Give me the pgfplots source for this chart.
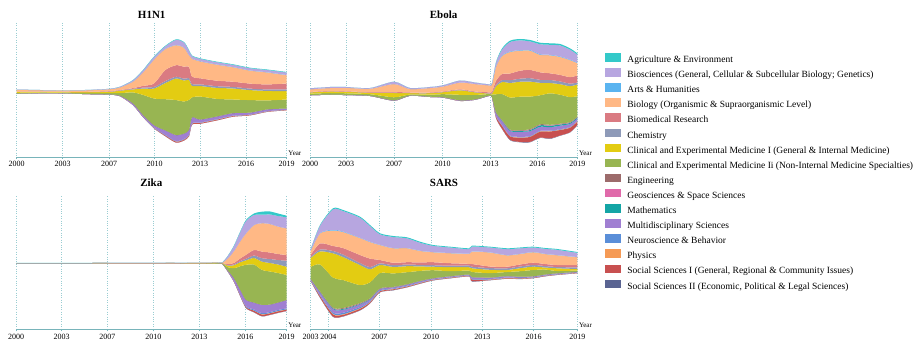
\documentclass[border=0pt]{standalone}
\usepackage{fontspec}
\setmainfont{Liberation Serif}
\usepackage{pgfplots}
\usepackage{pgfplotstable}
\pgfplotsset{compat=1.18}

\definecolor{cAgr}{HTML}{33C9C9}
\definecolor{cBsc}{HTML}{B7A6E0}
\definecolor{cArt}{HTML}{5AB4F0}
\definecolor{cBio}{HTML}{FFB885}
\definecolor{cBmd}{HTML}{DA7B82}
\definecolor{cChm}{HTML}{8E9AB8}
\definecolor{cCA}{HTML}{E3CC12}
\definecolor{cCB}{HTML}{98B552}
\definecolor{cEng}{HTML}{9C6B6B}
\definecolor{cGeo}{HTML}{E06AAA}
\definecolor{cMat}{HTML}{14A5A5}
\definecolor{cMul}{HTML}{A07FD2}
\definecolor{cNeu}{HTML}{5A8ED8}
\definecolor{cPhy}{HTML}{F59A55}
\definecolor{cSA}{HTML}{C85050}
\definecolor{cSB}{HTML}{5A6492}
\definecolor{axcol}{HTML}{78B4BA}
\definecolor{gridcol}{HTML}{9ACDD2}

% columns: x, top edge (screen px), then layer thicknesses from top to bottom
\pgfplotstableread{
x     top   Agr Bsc Art Bio  Bmd  Chm CA   CB   Eng Geo Mat Mul Neu Phy SA  SB
16.7  89.5  0   0.3 0   1.8  0.3  0.1 0.8  0.8  0   0   0   0.2 0   0   0   0
40    90    0   0.2 0   1.4  0.2  0.1 0.6  0.6  0   0   0   0.1 0   0   0   0
62    90.3  0   0.2 0   1.2  0.2  0.1 0.6  0.6  0   0   0   0.1 0   0   0   0
85    90    0   0.3 0   1.5  0.3  0.1 0.8  0.9  0   0   0   0.2 0   0   0   0
109   88.8  0   0.4 0   2.0  0.4  0.2 1.2  1.4  0   0   0   0.3 0   0   0   0
120   86.7  0   0.6 0   2.7  0.4  0.3 2.4  2.5  0   0   0   0.5 0   0   0.1 0
133   80    0.2 1.3 0.1 6.5  0.7  0.6 3.0  11.0 0   0   0   1.5 0.1 0   0.2 0
143   70    0.3 2.0 0.1 13.5 1.7  1.0 6.3  20   0   0   0   1.7 0.2 0   0.3 0
154   56.5  0.4 2.4 0.2 24   3.4  1.6 10   26.7 0   0   0   2.3 0.3 0.1 0.4 0
165   46    0.5 2.5 0.2 21   11   2   16   31   0   0   0   4.5 0.4 0.1 0.8 0
176   39.3  0.5 5.2 0.2 20   11.5 1.8 21.5 35   0   0   0   6   0.4 0.2 1.0 0
184   42    0.5 5   0.2 19   12   1.8 21   32   0   0   0   5.5 0.4 0.2 0.9 0
189   50    0.5 4.5 0.2 11.5 11.5 1.7 20   30   0   0   0   5   0.4 0.2 0.8 0
192   55.5  0.5 2.5 0.2 18   7.3  1.8 11.5 20   0   0   0   6   0.4 0.2 0.8 0
200   58.3  0.5 2.3 0.2 17   6    1.7 10.5 23   0   0   0   3   0.3 0.2 0.8 0
217   61.7  0.5 2.3 0.2 16   5.5  1.7 11   17.5 0   0   0   2.8 0.3 0.2 0.7 0
233   64.3  0.5 2.2 0.2 14.5 5.2  1.6 11   13.6 0   0   0   2.5 0.3 0.2 0.6 0
250   67.7  0.5 2.2 0.2 13   5    1.5 10   12.5 0   0   0   2   0.2 0.1 0.5 0
267   69.5  0.5 2.2 0.2 12   5    1.5 9.5  9    0   0   0   1.8 0.2 0.1 0.4 0
286.7 72    0.5 2.5 0.2 8.3  6    1.7 8.3  9    0   0   0   1.3 0.1 0.1 0.3 0
}\tabH

\pgfplotstableread{
x     top  Agr Bsc Art Bio  Bmd Chm CA   CB   Eng Geo Mat Mul Neu Phy SA  SB
310   88.3 0   1.0 0   2.6  0.4 0.1 1.3  1.3  0   0   0   0.3 0   0   0   0
330   87   0   1.0 0   3.0  0.4 0.1 1.5  1.5  0   0   0   0.3 0   0   0   0
346   87   0   0.8 0   3.5  0.4 0.1 1.5  1.5  0   0   0   0.3 0   0   0   0
370   88   0   0.7 0   3.5  0.4 0.1 1.5  1.5  0   0   0   0.3 0   0   0   0
394   81.7 0   2.3 0   8    0.7 0.3 4.3  3.0  0   0   0   0.4 0   0   0   0
410   88   0   1.0 0   3.5  0.5 0.2 1.3  1.0  0   0   0   0.3 0   0   0   0
430   87   0   1.0 0   4.5  0.5 0.2 1.5  2.0  0   0   0   0.3 0   0   0   0
443   85.3 0   1.2 0   5    0.5 0.2 2.0  3.0  0   0   0   0.4 0   0   0   0
460   80.5 0   2.0 0   6.8  0.6 0.4 4.5  5.5  0   0   0   0.5 0   0   0.2 0
475   82.5 0   1.5 0   7.5  0.6 0.3 2.5  4.5  0   0   0   0.4 0   0   0   0
489   84.3 0   1.0 0   7    1.0 0.3 0.5  1.5  0   0   0   0.4 0   0   0   0
492   83   0   1.2 0   7.5  1.3 0.4 1.0  2.5  0   0   0   0.5 0   0   0   0
496   62   0.5 4   0.3 14   4   1.5 8    18   0.2 0.1 0.3 3   0.3 0.2 1.5 0.2
502   48.5 1   6   0.5 18   6   2   12   26   0.3 0.2 0.5 4   0.4 0.3 3   0.3
510   40.7 1.3 9.5 0.5 21.5 6.7 2.7 14.6 32   0.4 0.3 0.8 4.5 0.5 0.3 3.5 0.4
520   39   1.4 9.8 0.5 20   8   3   15   33.5 0.5 0.3 0.8 5   0.5 0.3 4.3 0.4
530   40   1.4 8.6 0.6 19.3 8.3 3.4 15   32.5 0.6 0.4 1   5   0.5 0.3 5   0.4
540   42.7 1.5 10  0.6 17.5 7.5 3   12.5 29   0.6 0.4 1.5 4   0.5 0.3 6   0.4
550   43.3 1.5 10  0.5 18   6.7 3   10.3 31.5 0.5 0.4 1.5 3.5 0.5 0.3 7   0.4
560   44   1.4 11  0.5 18   6.5 2.8 10.5 29   0.5 0.3 1.2 3.5 0.5 0.3 5.5 0.3
570   48.3 1.3 10  0.5 17   6.5 2.5 11   25   0.5 0.3 1   3   0.5 0.3 4.5 0.3
577.3 53.3 1.2 8   0.5 12.5 7   2   11.7 20.6 0.4 0.3 1   2.3 0.5 0.3 3.5 0.3
}\tabE

\pgfplotstableread{
x     top   Agr Bsc  Art Bio  Bmd Chm CA  CB  Eng Geo Mat Mul Neu Phy SA  SB
16    262.9 0.1 0    0.1 0    0   0   0   0   0   0   0   0   0   0   0   0
28    262.9 0.1 0    0.1 0    0   0   0   0   0   0   0   0   0   0   0   0
36    263   0   0    0   0    0   0   0   0   0   0   0   0   0   0   0   0
45    262.9 0.1 0    0.1 0    0   0   0   0   0   0   0   0   0   0   0   0
70    262.9 0.1 0    0.1 0    0   0   0   0   0   0   0   0   0   0   0   0
92    263   0   0    0   0    0   0   0   0   0   0   0   0   0   0   0   0
110   262.9 0   0    0   0.1  0   0   0.1 0   0   0   0   0   0   0   0   0
150   262.9 0   0    0   0.1  0   0   0.1 0   0   0   0   0   0   0   0   0
165   263   0   0    0   0    0   0   0   0   0   0   0   0   0   0   0   0
175   262.8 0   0    0   0.2  0   0   0.2 0   0   0   0   0   0   0   0   0
200   262.7 0   0    0   0.3  0.1 0   0.2 0.1 0   0   0   0   0   0   0   0
212   262.5 0   0    0   0.4  0.1 0   0.3 0.3 0   0   0   0   0   0   0   0
218   262.5 0   0    0   0.4  0   0   0.3 0.3 0   0   0   0   0   0   0   0
222   262.7 0   0    0   0.3  0   0   0.2 0.3 0   0   0   0   0   0   0   0
228   255.5 0.2 2.5  0   6    1   0.5 1.5 3.5 0   0   0   1   0.1 0   0.2 0
234   245.5 0.4 5    0   12   1.5 0.8 3   10  0   0   0   3   0.3 0   0.5 0
240   232   0.6 9    0   17   2.5 1.2 4   23  0   0   0   5   0.5 0   0.8 0.2
246   220   0.8 12.5 0   21.5 4   1.5 4.5 35  0   0   0   6.5 0.7 0   1   0.2
254   213.5 1.5 10   0   25   5.5 2.5 6.5 38  0   0   0   7   1   0.2 1.5 0.2
262   211.7 3   8.5  0   28.4 6.6 3.4 8.3 35  0   0   0   8.3 1   0.3 1.7 0.2
270   211.5 3   9.5  0   28.5 6.5 4   8.5 33  0   0   0   7.5 1   0.3 1.5 0.2
278   213.5 2.5 10.5 0   27.5 6   4.5 8.5 29.5 0  0   0   7.5 1   0.3 1.5 0.2
286.7 215.7 1.6 11   0   26.7 5.7 6   8.3 25  0   0   0   8.3 1   0.3 1.3 0.2
}\tabZ

\pgfplotstableread{
x     top   Agr Bsc  Art Bio  Bmd Chm CA   CB  Eng Geo Mat Mul Neu Phy SA  SB
310.7 249   0.3 1.5  0.1 4    2   1   9    12  0.2 0.1 0.2 1   0.3 0.1 0.3 0.1
320   225   0.6 7.5  0.3 10   6   2   13   27  0.3 0.2 0.5 2.5 0.8 0.3 1.5 0.3
333   208.3 1   20.5 0.7 15.5 5   2.3 24.3 30  0.4 0.3 0.8 3.4 1.3 0.5 2.3 0.3
343   210   1   20.5 0.5 16   6.5 2.5 23   28  0.7 0.3 0.8 3   1.5 0.5 1.5 0.3
360   216.7 1   20   0.3 17   8   2   20   18  0.6 0.3 0.6 2.5 1.2 0.5 1.5 0.3
370   225   1   15.7 0.3 16.6 8.4 2.3 13   16  0.5 0.2 0.5 1.5 0.8 0.4 1.0 0.3
380   233.3 1   10.5 0.2 15   3.3 1.7 8    15.3 0.4 0.2 0.3 1.2 0.6 0.3 0.8 0.3
393   236   1   11   0.2 14.5 2.5 1.7 6.5  13.5 0.3 0.1 0.2 1   0.5 0.3 0.8 0.3
407   237.3 1   9.7  0.2 14   2.3 1.7 6    12  0.3 0.1 0.2 1   0.5 0.2 0.7 0.2
420   241.7 1   8    0.2 11.5 2.5 1.5 4.5  10  0.2 0.1 0.2 1   0.4 0.2 0.6 0.2
433   245   0.8 6.2  0.2 10   3   1.5 3.5  8   0.2 0.1 0.1 0.8 0.3 0.1 0.5 0.2
450   246.7 0.8 5.5  0.2 10   2.5 1.5 4    5   0.2 0.1 0.1 0.7 0.3 0.1 0.5 0.2
469   248.3 0.8 4.5  0.2 10   1.7 1.7 3.3  4   0.2 0.1 0.1 0.6 0.3 0.1 0.5 0.2
472   245.7 0.8 4.8  0.2 12.5 2.7 1.6 3.7  5   0.2 0.1 0.2 1.5 0.5 0.2 1.5 0.3
490   246.7 0.8 4.8  0.2 14   1.6 1.7 3.3  4.4 0.2 0.1 0.2 1   0.4 0.2 0.5 0.2
507   248.3 0.8 6    0.2 11.4 1.6 1.7 2    4   0.2 0.1 0.2 1   0.4 0.2 0.5 0.2
520   247.5 0.8 5.5  0.2 10.5 2   1.7 3    5.5 0.2 0.1 0.2 0.8 0.3 0.2 0.4 0.2
533   246.7 0.8 4.5  0.2 10.5 2.3 1.7 3.3  6.3 0.1 0.1 0.1 0.7 0.3 0.1 0.4 0.2
545   248   0.8 5    0.2 10   2   1.5 2    5   0.1 0.1 0.1 0.6 0.3 0.1 0.4 0.2
557   249   0.8 5.2  0.2 9.8  2   1.3 2.7  2.3 0.1 0.1 0.1 0.6 0.3 0.1 0.3 0.1
577.3 252   0.8 4.2  0.2 7.8  2.5 1.5 1.5  1.3 0.1 0.1 0.1 0.5 0.2 0.1 0.3 0.1
}\tabS

\pgfplotsset{
  lay/.style={fill=#1, draw=none, smooth, tension=0.45},
  panel/.style={
    scale only axis, y dir=reverse, stack plots=y,
    axis x line*=bottom, axis y line=none,
    x axis line style={axcol, line width=0.9pt, -},
    xmajorgrids, major grid style={gridcol, dotted, line width=0.6pt},
    xtick style={axcol, line width=0.5pt}, major tick length=2pt, tick align=outside,
    xticklabel style={font=\fontsize{8}{9}\selectfont, text=black, yshift=1pt},
    title style={font=\fontsize{11}{12}\selectfont\bfseries, at={(axis description cs:0.5,1)}, anchor=center},
    xlabel={Year},
    xlabel style={font=\fontsize{7}{8}\selectfont, at={(axis description cs:1,0)}, anchor=base west, inner sep=0pt, xshift=1.5pt, yshift=1.5pt},
  }
}
\newcommand{\streams}[1]{%
  \addplot[draw=none, smooth, tension=0.45] table[x=x,y=top]{#1};
  \addplot[lay=cAgr] table[x=x,y=Agr]{#1} \closedcycle;
  \addplot[lay=cBsc] table[x=x,y=Bsc]{#1} \closedcycle;
  \addplot[lay=cArt] table[x=x,y=Art]{#1} \closedcycle;
  \addplot[lay=cBio] table[x=x,y=Bio]{#1} \closedcycle;
  \addplot[lay=cBmd] table[x=x,y=Bmd]{#1} \closedcycle;
  \addplot[lay=cChm] table[x=x,y=Chm]{#1} \closedcycle;
  \addplot[lay=cCA] table[x=x,y=CA]{#1} \closedcycle;
  \addplot[lay=cCB] table[x=x,y=CB]{#1} \closedcycle;
  \addplot[lay=cEng] table[x=x,y=Eng]{#1} \closedcycle;
  \addplot[lay=cGeo] table[x=x,y=Geo]{#1} \closedcycle;
  \addplot[lay=cMat] table[x=x,y=Mat]{#1} \closedcycle;
  \addplot[lay=cMul] table[x=x,y=Mul]{#1} \closedcycle;
  \addplot[lay=cNeu] table[x=x,y=Neu]{#1} \closedcycle;
  \addplot[lay=cPhy] table[x=x,y=Phy]{#1} \closedcycle;
  \addplot[lay=cSA] table[x=x,y=SA]{#1} \closedcycle;
  \addplot[lay=cSB] table[x=x,y=SB]{#1} \closedcycle;
}

\begin{document}
\begin{tikzpicture}
\useasboundingbox (0pt,0pt) rectangle (921pt,340pt);

% H1N1
\begin{axis}[panel, at={(16.7pt,183pt)}, anchor=south west,
  width=270pt, height=134pt, xmin=16.7, xmax=286.7, ymin=23, ymax=157,
  xtick={16.7,62.7,109,154.7,200,246,286.7},
  xticklabels={2000,2003,2007,2010,2013,2016,2019},
  title={H1N1}, title style={yshift=2.5pt}]
\streams{\tabH}
\end{axis}

% Ebola
\begin{axis}[panel, at={(310pt,183pt)}, anchor=south west,
  width=267.3pt, height=134pt, xmin=310, xmax=577.3, ymin=23, ymax=157,
  xtick={310,346,394,442.7,490.7,537.3,577.3},
  xticklabels={2000,2003,2007,2010,2013,2016,2019},
  title={Ebola}, title style={yshift=2.5pt}]
\streams{\tabE}
\end{axis}

% Zika
\begin{axis}[panel, at={(16pt,10.7pt)}, anchor=south west,
  width=270.7pt, height=132.8pt, xmin=16, xmax=286.7, ymin=196.5, ymax=329.3,
  xtick={16,61.7,107.3,153.3,199.3,245.3,286.7},
  xticklabels={2000,2003,2007,2010,2013,2016,2019},
  title={Zika}, title style={yshift=8pt}]
\streams{\tabZ}
\end{axis}

% SARS
\begin{axis}[panel, at={(310.7pt,10.7pt)}, anchor=south west,
  width=266.6pt, height=132.8pt, xmin=310.7, xmax=577.3, ymin=196.5, ymax=329.3,
  xtick={310.7,328.3,379.3,431,482.3,533.7,577.3},
  xticklabels={2003,2004,2007,2010,2013,2016,2019},
  title={SARS}, title style={yshift=8pt}]
\streams{\tabS}
\end{axis}

% Legend
\begin{axis}[hide axis, scale only axis, width=10pt, height=10pt,
  xmin=0, xmax=1, ymin=0, ymax=1,
  at={(605pt,287pt)}, anchor=north west,
  legend cell align=left,
  legend image code/.code={\fill[#1] (0pt,-0.5pt) rectangle (15pt,7pt);},
  legend style={at={(0,1)}, anchor=north west, draw=none, fill=none,
    inner sep=0pt, outer sep=0pt, font=\fontsize{9.5}{10}\selectfont,
    row sep=3.16pt,
    nodes={inner sep=0pt, text height=7pt, text depth=2.5pt},
    /tikz/every odd column/.append style={column sep=7pt}}]
\addlegendimage{cAgr}\addlegendentry{Agriculture \& Environment}
\addlegendimage{cBsc}\addlegendentry{Biosciences (General, Cellular \& Subcellular Biology; Genetics)}
\addlegendimage{cArt}\addlegendentry{Arts \& Humanities}
\addlegendimage{cBio}\addlegendentry{Biology (Organismic \& Supraorganismic Level)}
\addlegendimage{cBmd}\addlegendentry{Biomedical Research}
\addlegendimage{cChm}\addlegendentry{Chemistry}
\addlegendimage{cCA}\addlegendentry{Clinical and Experimental Medicine I (General \& Internal Medicine)}
\addlegendimage{cCB}\addlegendentry{Clinical and Experimental Medicine Ii (Non-Internal Medicine Specialties)}
\addlegendimage{cEng}\addlegendentry{Engineering}
\addlegendimage{cGeo}\addlegendentry{Geosciences \& Space Sciences}
\addlegendimage{cMat}\addlegendentry{Mathematics}
\addlegendimage{cMul}\addlegendentry{Multidisciplinary Sciences}
\addlegendimage{cNeu}\addlegendentry{Neuroscience \& Behavior}
\addlegendimage{cPhy}\addlegendentry{Physics}
\addlegendimage{cSA}\addlegendentry{Social Sciences I (General, Regional \& Community Issues)}
\addlegendimage{cSB}\addlegendentry{Social Sciences II (Economic, Political \& Legal Sciences)}
\end{axis}
\end{tikzpicture}
\end{document}
